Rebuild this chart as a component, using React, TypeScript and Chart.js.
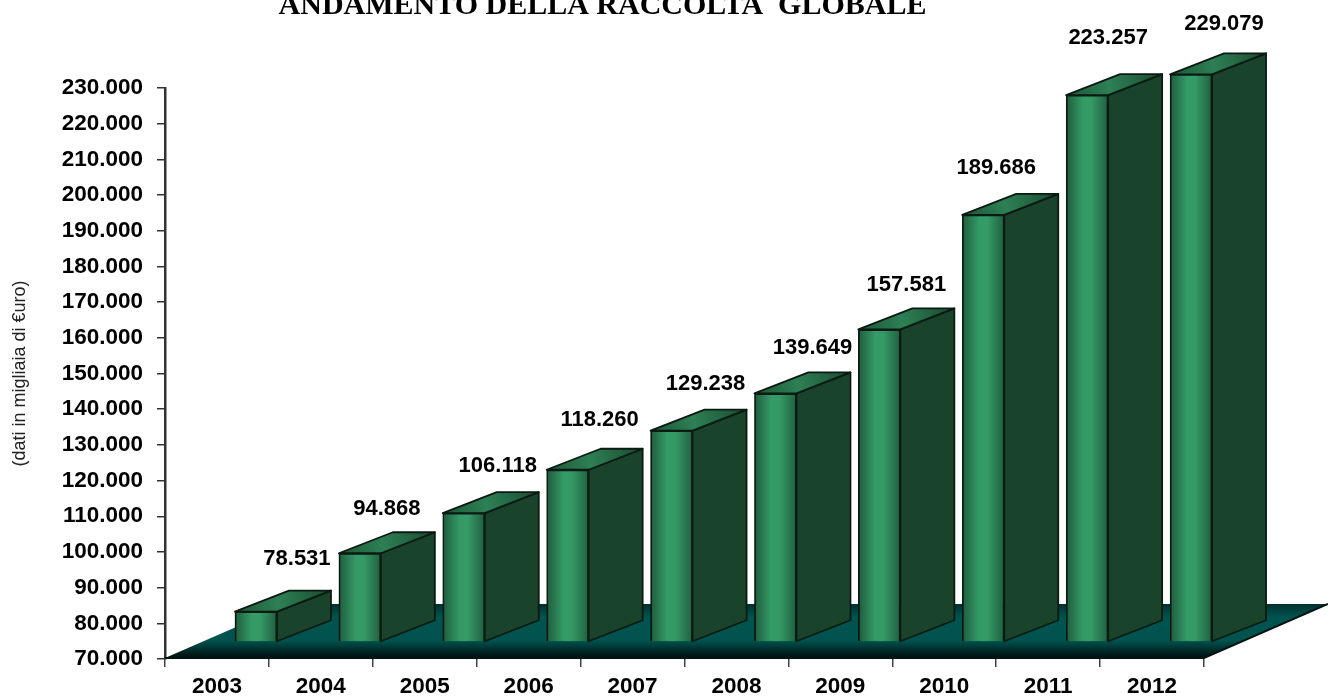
import React, { useEffect, useRef } from "react";
import { Chart, registerables } from "chart.js";

Chart.register(...registerables);

const years = ["2003", "2004", "2005", "2006", "2007", "2008", "2009", "2010", "2011", "2012"];
const raccolta = [78531, 94868, 106118, 118260, 129238, 139649, 157581, 189686, 223257, 229079];
const titleText = "ANDAMENTO DELLA RACCOLTA  GLOBALE";
const axisText = "(dati in migliaia di €uro)";

// Oblique projection of the 3D scene, in canvas pixels.
const BAR_SHIFT = { x: 39, y: -17 };
const DEPTH = { x: 54, y: -21 };
const FLOOR_DEPTH = { x: 124, y: -54 };
const FLOOR_LIFT = 1;
const EDGE = "#0b1a12";
const AXIS_MIN = 70000;
const AXIS_MAX = 230000;

// Hand-placed value labels, relative to the top centre of each bar's front face.
const labelNudgeX = [41, 27, 34, 32, 34, 37, 27, 13, 21, 33];
const labelNudgeY = [-53, -44, -47, -50, -47, -46, -45, -47, -57, -50];

const withDots = (v: number) => String(v).replace(/\B(?=(\d{3})+(?!\d))/g, ".");

const scene = {
  id: "scene3d",
  beforeDatasetsDraw(chart: any) {
    const { ctx, chartArea: a } = chart;
    const front = a.bottom - FLOOR_LIFT;
    const g = ctx.createLinearGradient(0, front + FLOOR_DEPTH.y, 0, front);
    g.addColorStop(0, "#00302f");
    g.addColorStop(0.25, "#005450");
    g.addColorStop(0.68, "#00524e");
    g.addColorStop(1, "#000c0c");
    ctx.save();
    ctx.beginPath();
    ctx.moveTo(a.left, front);
    ctx.lineTo(a.right, front);
    ctx.lineTo(a.right + FLOOR_DEPTH.x, front + FLOOR_DEPTH.y);
    ctx.lineTo(a.left + FLOOR_DEPTH.x, front + FLOOR_DEPTH.y);
    ctx.closePath();
    ctx.fillStyle = g;
    ctx.fill();
    ctx.strokeStyle = "#001413";
    ctx.lineWidth = 2;
    ctx.beginPath();
    ctx.moveTo(a.left, front);
    ctx.lineTo(a.right, front);
    ctx.lineTo(a.right + FLOOR_DEPTH.x, front + FLOOR_DEPTH.y);
    ctx.stroke();
    ctx.restore();
  },
  beforeDatasetDraw(chart: any, args: any) {
    const { ctx } = chart;
    const bars = chart.getDatasetMeta(args.index).data;
    ctx.save();
    ctx.lineWidth = 1.8;
    ctx.strokeStyle = EDGE;
    ctx.lineJoin = "round";
    bars.forEach((el: any) => {
      const left = el.x - el.width / 2 + BAR_SHIFT.x;
      const right = left + el.width;
      const top = el.y + BAR_SHIFT.y;
      const bottom = el.base + BAR_SHIFT.y;
      // side face
      ctx.beginPath();
      ctx.moveTo(right, top);
      ctx.lineTo(right + DEPTH.x, top + DEPTH.y);
      ctx.lineTo(right + DEPTH.x, bottom + DEPTH.y);
      ctx.lineTo(right, bottom);
      ctx.closePath();
      ctx.fillStyle = "#1a432b";
      ctx.fill();
      ctx.stroke();
      // top face
      const tg = ctx.createLinearGradient(left, top, right + DEPTH.x, top + DEPTH.y);
      tg.addColorStop(0, "#1d5537");
      tg.addColorStop(0.45, "#2d8055");
      tg.addColorStop(1, "#1a4a2f");
      ctx.beginPath();
      ctx.moveTo(left, top);
      ctx.lineTo(right, top);
      ctx.lineTo(right + DEPTH.x, top + DEPTH.y);
      ctx.lineTo(left + DEPTH.x, top + DEPTH.y);
      ctx.closePath();
      ctx.fillStyle = tg;
      ctx.fill();
      ctx.stroke();
    });
    ctx.restore();
    // The front faces are drawn by the bar elements, lifted onto the floor.
    ctx.save();
    ctx.translate(BAR_SHIFT.x, BAR_SHIFT.y);
  },
  afterDatasetDraw(chart: any, args: any) {
    const { ctx } = chart;
    ctx.restore();
    const bars = chart.getDatasetMeta(args.index).data;
    ctx.save();
    ctx.font = "bold 22px 'Liberation Sans', Arial, sans-serif";
    ctx.fillStyle = "#000";
    ctx.textAlign = "center";
    ctx.textBaseline = "middle";
    bars.forEach((el: any, i: number) => {
      const x = el.x + BAR_SHIFT.x + labelNudgeX[i];
      const y = el.y + BAR_SHIFT.y + labelNudgeY[i];
      ctx.fillText(withDots(raccolta[i]), x, y);
    });
    ctx.restore();
  },
  afterDraw(chart: any) {
    const { ctx } = chart;
    ctx.save();
    ctx.font = "bold 30px 'Liberation Serif', 'Times New Roman', serif";
    ctx.fillStyle = "#000";
    ctx.textAlign = "center";
    ctx.textBaseline = "alphabetic";
    ctx.fillText(titleText, 602.5, 14);
    ctx.restore();
  },
};

export default function App() {
  const ref = useRef<HTMLCanvasElement>(null);

  useEffect(() => {
    const chart = new Chart(ref.current!, {
      type: "bar",
      data: {
        labels: years,
        datasets: [
          {
            data: raccolta,
            base: AXIS_MIN,
            barThickness: 42,
            clip: false,
            borderWidth: 1.8,
            borderColor: EDGE,
            backgroundColor: (c: any) => {
              // Cylinder-like shading across each front face.
              const cx = c.chart.scales.x?.getPixelForValue(c.dataIndex ?? 0);
              if (!Number.isFinite(cx)) return "#349a66";
              const g = c.chart.ctx.createLinearGradient(cx - 21, 0, cx + 21, 0);
              g.addColorStop(0, "#1f5c3d");
              g.addColorStop(0.4, "#349a66");
              g.addColorStop(0.6, "#349a66");
              g.addColorStop(1, "#1f5f3f");
              return g;
            },
          } as any,
        ],
      },
      options: {
        responsive: false,
        animation: false,
        layout: { padding: { top: 88, right: 124, left: 0, bottom: 0 } },
        plugins: { legend: { display: false }, tooltip: { enabled: false } },
        scales: {
          x: {
            grid: { drawOnChartArea: false, tickLength: 8, color: "#444", lineWidth: 1.5 },
            border: { display: false },
            ticks: {
              color: "#000",
              font: { family: "'Liberation Sans', Arial, sans-serif", size: 22.5, weight: "bold" },
              maxRotation: 0,
              autoSkip: false,
              padding: 6,
            },
            afterFit: (s: any) => {
              s.height = 38;
            },
          },
          y: {
            min: AXIS_MIN,
            max: AXIS_MAX,
            grid: { drawOnChartArea: false, tickLength: 8, color: "#333", lineWidth: 1.5 },
            border: { color: "#333", width: 2.5 },
            title: {
              display: true,
              text: axisText,
              color: "#222",
              font: { family: "'Liberation Sans', Arial, sans-serif", size: 18 },
              padding: { top: 9, bottom: 0 },
            },
            ticks: {
              stepSize: 10000,
              autoSkip: false,
              color: "#000",
              padding: 14,
              font: { family: "'Liberation Sans', Arial, sans-serif", size: 22.5, weight: "bold" },
              callback: (v: any) => withDots(Number(v)),
            },
            afterFit: (s: any) => {
              s.width = 165;
            },
          },
        },
      },
      plugins: [scene],
    } as any);
    return () => chart.destroy();
  }, []);

  return (
    <div style={{ position: "absolute", left: 0, top: 0, width: 1328, height: 697, background: "#fff", overflow: "hidden" }}>
      <canvas ref={ref} width={1328} height={697} style={{ display: "block" }} />
    </div>
  );
}
